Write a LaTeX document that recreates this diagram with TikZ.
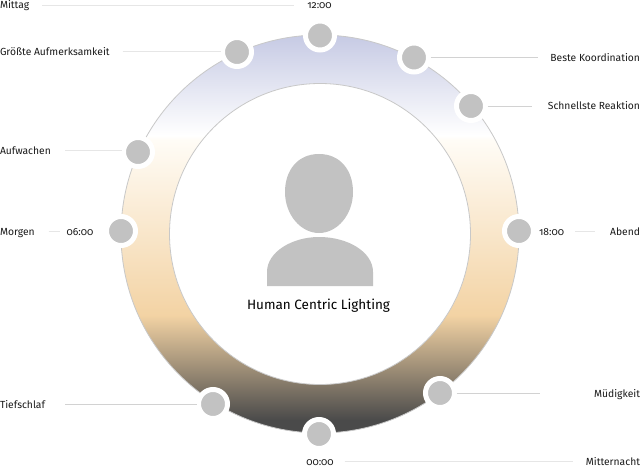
\documentclass[tikz,border=0pt]{standalone}
\usepackage{fontspec}
\setmainfont[Numbers=OldStyle]{Fira Sans}
\definecolor{ringdark}{HTML}{4A4A4A}
\definecolor{ringdarkb}{HTML}{4A4A4A}
\definecolor{ringpeach}{HTML}{F3D3A4}
\definecolor{ringcream}{HTML}{FFFCF6}
\definecolor{ringwhite}{HTML}{FFFFFF}
\definecolor{ringblue}{HTML}{C6CAE4}
\definecolor{dotgray}{HTML}{C2C2C2}
\definecolor{leadgray}{HTML}{D2D2D2}
\definecolor{leadlight}{HTML}{E6E6E6}
\definecolor{edgegray}{HTML}{C8C8C8}
\definecolor{inkgray}{HTML}{1A1A1A}
\pgfdeclareverticalshading{dayring}{100bp}{
color(0bp)=(ringdark);
color(25bp)=(ringdark);
color(26.6bp)=(ringdarkb);
color(39.8bp)=(ringpeach);
color(61.8bp)=(ringcream);
color(62.4bp)=(ringwhite);
color(75bp)=(ringblue);
color(100bp)=(ringblue)}
\tikzset{
  dot/.style={circle,fill=dotgray,draw=white,line width=5pt,minimum size=29pt,inner sep=0pt,outer sep=0pt},
  lbl/.style={font=\fontsize{10.3}{12}\selectfont,text=inkgray,inner sep=0pt,outer sep=0pt},
  lead/.style={draw=leadgray,line width=0.8pt},
  leadl/.style={draw=leadlight,line width=1pt},
  ringedge/.style={draw=edgegray,line width=0.8pt}
}
\begin{document}
\begin{tikzpicture}[x=1pt,y=-1pt]
\useasboundingbox (0,0) rectangle (640,468);
\fill[white] (0,0) rectangle (640,468);
\coordinate (c) at (320,234);
\shade[shading=dayring] (c) circle (199pt);
\draw[ringedge] (c) circle (199pt);
\draw[ringedge,fill=white] (c) circle (150.5pt);
% person
\fill[dotgray] (267,286) -- (267,272) .. controls (267,252) and (292,237) .. (319,237) .. controls (348,237) and (373,252) .. (373,272) -- (373,286) -- cycle;
\fill[dotgray] (319,154) .. controls (340,154) and (353,170) .. (353,192) .. controls (353,215) and (337,233) .. (319,233) .. controls (301,233) and (285,215) .. (285,192) .. controls (285,170) and (298,154) .. (319,154) -- cycle;
\node[lbl,font=\fontsize{13.5}{15}\selectfont,text=black,anchor=base] (title) at (318.5,309) {Human Centric Lighting};
% dots
\node[dot] (d12) at (320,35.5) {};
\node[dot] (dg) at (237,52) {};
\node[dot] (db) at (414,57.5) {};
\node[dot] (ds) at (471,106) {};
\node[dot] (da) at (138,152) {};
\node[dot] (d6) at (121,231) {};
\node[dot] (d18) at (519,231) {};
\node[dot] (dt) at (213,404) {};
\node[dot] (dm) at (440,393) {};
\node[dot] (d0) at (319,434) {};
% labels
\node[lbl,anchor=base west] (lmit) at (0,8.5) {Mittag};
\node[lbl,anchor=base] (t12) at (319.5,8.5) {12:00};
\node[lbl,anchor=base west] (lg) at (0,55.7) {Größte Aufmerksamkeit};
\node[lbl,anchor=base east] (lb) at (640,61.5) {Beste Koordination};
\node[lbl,anchor=base east] (ls) at (640,110) {Schnellste Reaktion};
\node[lbl,anchor=base west] (la) at (0,155) {Aufwachen};
\node[lbl,anchor=base west] (lm) at (0,235) {Morgen};
\node[lbl,anchor=base] (t6) at (80,235) {06:00};
\node[lbl,anchor=base] (t18) at (551.5,235) {18:00};
\node[lbl,anchor=base east] (lab) at (640,235) {Abend};
\node[lbl,anchor=base west] (lt) at (0,408) {Tiefschlaf};
\node[lbl,anchor=base east] (lmu) at (640,397) {Müdigkeit};
\node[lbl,anchor=base] (t0) at (320,465) {00:00};
\node[lbl,anchor=base east] (lmn) at (640,465) {Mitternacht};
% leads
\coordinate (ymit) at (0,5.3);
\coordinate (ya) at (0,151);
\coordinate (yn) at (0,461);
\draw[leadl,shorten <=13pt,shorten >=13pt] (lmit.east |- ymit) -- (t12.west |- ymit);
\draw[leadl,shorten <=13pt,shorten >=2pt] (lg.east |- dg) -- (dg.west);
\draw[lead,shorten <=2pt,shorten >=12pt] (db.east) -- (lb.west |- db);
\draw[lead,shorten <=2pt,shorten >=16pt] (ds.east) -- (ls.west |- ds);
\draw[leadl,shorten <=14.5pt,shorten >=2pt] (la.east |- ya) -- (da.west |- ya);
\draw[leadl,shorten <=14pt,shorten >=7pt] (lm.east |- d6) -- (t6.west |- d6);
\draw[leadl,shorten <=11pt,shorten >=15pt] (t18.east |- d18) -- (lab.west |- d18);
\draw[lead,shorten <=20pt,shorten >=2pt] (lt.east |- dt) -- (dt.west);
\draw[lead,shorten <=2pt,shorten >=53.7pt] (dm.east) -- (lmu.west |- dm);
\draw[leadl,shorten <=11pt,shorten >=12.5pt] (t0.east |- yn) -- (lmn.west |- yn);
\end{tikzpicture}
\end{document}
